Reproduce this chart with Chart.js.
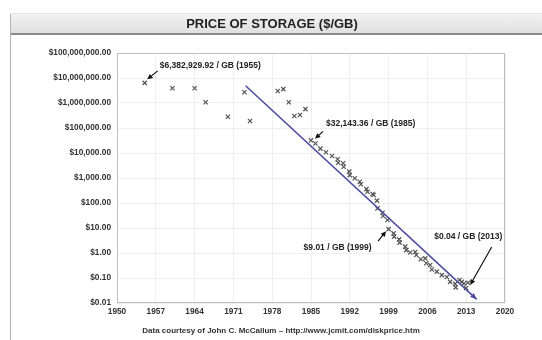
<!DOCTYPE html>
<html>
<head>
<meta charset="utf-8">
<title>Price of storage</title>
<script src="https://cdn.jsdelivr.net/npm/chart.js@4.4.1/dist/chart.umd.min.js"></script>
<style>
  html, body { margin: 0; padding: 0; background: #fff; }
  #wrap { position: relative; width: 542px; height: 340px; overflow: hidden; font-family: 'Liberation Sans', Arial, sans-serif; }
  #chart { position: absolute; left: 0; top: 0; }
  .frame { position: absolute; left: 10px; top: 14px; width: 560px; height: 340px; border-left: 1px solid #b4b4b4; pointer-events: none; }
  .band { position: absolute; left: 10px; top: 13px; width: 560px; height: 19px; background: linear-gradient(#f2f2f2, #e0e0e0); border-top: 1px solid #e6e6e6; border-bottom: 2px solid #8a8a8a; }
  .title { position: absolute; left: 0; top: 14px; width: 544px; text-align: center; font-weight: bold; font-size: 13px; line-height: 19px; color: #222; }
  .foot { position: absolute; left: 0; top: 325px; width: 562px; text-align: center; font-weight: bold; font-size: 8px; line-height: 12px; color: #333; }
</style>
</head>
<body>
<div id="wrap">
  <canvas id="chart" width="542" height="340"></canvas>
  <div class="band"></div>
  <div class="frame"></div>
  <div class="title">PRICE OF STORAGE ($/GB)</div>
  <div class="foot">Data courtesy of John C. McCallum – http://www.jcmit.com/diskprice.htm</div>
</div>
<script>
// disk price samples, $ per GB
const years = [
  1955, 1960, 1964, 1966, 1970, 1973, 1974, 1979, 1980, 1981, 1982, 1983, 1984,
  1985, 1985.8, 1986.7, 1987.7, 1988.8, 1989.8, 1989.9, 1990.8, 1990.9, 1991.9, 1992,
  1992.9, 1993.8, 1994, 1995, 1995.2, 1996.1, 1996.3, 1996.9, 1997, 1997.9, 1998,
  1998.8, 1999, 1999.9, 2000, 2000.9, 2001, 2002, 2002.2, 2002.9, 2003.8, 2004,
  2004.8, 2005.6, 2005.8, 2006.5, 2006.8, 2007.7, 2008.6, 2009.5, 2010.1, 2011,
  2011.1, 2011.8, 2012.2, 2012.6, 2013, 2013.3
];
const prices = [
  6382929.92, 3.9e6, 3.9e6, 1.07e6, 2.8e5, 2.7e6, 1.9e5, 3.0e6, 3.6e6, 1.07e6, 3.0e5, 3.3e5, 5.7e5,
  32143.36, 24000, 15000, 10700, 7600, 5600, 4100, 3900, 2800, 1800, 1300,
  980, 710, 560, 360, 280, 230, 210, 124, 61, 41, 30,
  21, 9.01, 6.1, 4.5, 3.5, 2.6, 1.8, 1.3, 1.05, 1.1, 0.83,
  0.56, 0.61, 0.39, 0.33, 0.22, 0.18, 0.13, 0.11, 0.07, 0.058,
  0.042, 0.083, 0.07, 0.06, 0.04, 0.065
];

// fitted trend, start and end
const trendYears = [1973.2, 2014.9];
const trendPrices = [4.9e6, 0.014];

// called-out samples
const noteYears = [1955, 1985, 1999, 2013];
const notePrices = [6382929.92, 32143.36, 9.01, 0.04];
const noteLabels = ['$6,382,929.92 / GB (1955)', '$32,143.36 / GB (1985)', '$9.01 / GB (1999)', '$0.04 / GB (2013)'];

const yearTicks = [1950, 1957, 1964, 1971, 1978, 1985, 1992, 1999, 2006, 2013, 2020];
const priceTicks = [0.01, 0.1, 1, 10, 100, 1000, 10000, 100000, 1000000, 10000000, 100000000];

const LABEL_FONT = "bold 8.5px 'Liberation Sans', Arial, sans-serif";

// text offset / arrow tail / arrow head, relative to the point
const noteLayout = [
  { tx: 15, ty: -17, align: 'left',   ax: 13,  ay: -12, bx: 2.5, by: -3.5 },
  { tx: 15, ty: -17, align: 'left',   ax: 12,  ay: -9,  bx: 4,   by: -1.5 },
  { tx: -17, ty: 18.5, align: 'right', ax: -10.5, ay: 12, bx: -2.5, by: 2 },
  { tx: 2,  ty: -51, align: 'center', ax: 25.5, ay: -41, bx: 4,  by: -3 }
];

function arrow(ctx, x1, y1, x2, y2, size) {
  const a = Math.atan2(y2 - y1, x2 - x1);
  ctx.beginPath();
  ctx.moveTo(x1, y1);
  ctx.lineTo(x2 - Math.cos(a) * size * 0.6, y2 - Math.sin(a) * size * 0.6);
  ctx.stroke();
  ctx.beginPath();
  ctx.moveTo(x2, y2);
  ctx.lineTo(x2 - size * Math.cos(a - 0.45), y2 - size * Math.sin(a - 0.45));
  ctx.lineTo(x2 - size * Math.cos(a + 0.45), y2 - size * Math.sin(a + 0.45));
  ctx.closePath();
  ctx.fill();
}

const decorations = {
  id: 'decorations',
  afterDraw(chart) {
    const { ctx, chartArea: a, scales } = chart;
    const xs = scales.x, ys = scales.y;
    ctx.save();

    // plot frame
    ctx.strokeStyle = '#bdbdbd';
    ctx.lineWidth = 1;
    ctx.strokeRect(a.left + 0.5, a.top + 0.5, a.right - a.left - 1, a.bottom - a.top - 1);

    // head on the trend line
    const tx0 = xs.getPixelForValue(trendYears[0]), ty0 = ys.getPixelForValue(trendPrices[0]);
    const tx1 = xs.getPixelForValue(trendYears[1]), ty1 = ys.getPixelForValue(trendPrices[1]);
    ctx.fillStyle = '#4e4ea0';
    const ang = Math.atan2(ty1 - ty0, tx1 - tx0);
    ctx.beginPath();
    ctx.moveTo(tx1, ty1);
    ctx.lineTo(tx1 - 7 * Math.cos(ang - 0.4), ty1 - 7 * Math.sin(ang - 0.4));
    ctx.lineTo(tx1 - 7 * Math.cos(ang + 0.4), ty1 - 7 * Math.sin(ang + 0.4));
    ctx.closePath();
    ctx.fill();

    // callouts
    ctx.font = LABEL_FONT;
    ctx.textBaseline = 'middle';
    noteYears.forEach((yr, i) => {
      const px = xs.getPixelForValue(yr);
      const py = ys.getPixelForValue(notePrices[i]);
      const l = noteLayout[i];
      ctx.fillStyle = '#222';
      ctx.textAlign = l.align;
      ctx.fillText(noteLabels[i], px + l.tx, py + l.ty);
      ctx.strokeStyle = '#111';
      ctx.fillStyle = '#111';
      ctx.lineWidth = 1.2;
      arrow(ctx, px + l.ax, py + l.ay, px + l.bx, py + l.by, 6);
    });
    ctx.restore();
  }
};

const tickFont = { family: "'Liberation Sans', Arial, sans-serif", size: 8.3, weight: 'bold' };

new Chart(document.getElementById('chart'), {
  type: 'scatter',
  data: {
    datasets: [
      {
        label: 'Price per GB',
        data: years.map((y, i) => ({ x: y, y: prices[i] })),
        pointStyle: 'crossRot',
        pointRadius: 3,
        borderColor: '#555',
        backgroundColor: '#555',
        borderWidth: 1.2,
        order: 2
      },
      {
        label: 'Trend',
        data: trendYears.map((y, i) => ({ x: y, y: trendPrices[i] })),
        showLine: true,
        pointRadius: 0,
        borderColor: '#4e4ea0',
        borderWidth: 1.6,
        order: 1
      }
    ]
  },
  options: {
    responsive: false,
    animation: false,
    layout: { padding: { top: 53, right: 37, left: 0, bottom: 0 } },
    plugins: { legend: { display: false }, tooltip: { enabled: false }, title: { display: false } },
    scales: {
      x: {
        type: 'linear',
        min: 1950,
        max: 2020,
        afterBuildTicks: axis => { axis.ticks = yearTicks.map(v => ({ value: v })); },
        afterFit: axis => { axis.height = 37; },
        grid: { color: '#efefef', drawTicks: false },
        border: { display: false },
        ticks: { color: '#333', font: tickFont, padding: 4, maxRotation: 0, autoSkip: false,
          callback: v => String(v) }
      },
      y: {
        type: 'logarithmic',
        min: 0.01,
        max: 100000000,
        afterBuildTicks: axis => { axis.ticks = priceTicks.map(v => ({ value: v })); },
        afterFit: axis => { axis.width = 117; },
        grid: { color: '#efefef', drawTicks: false },
        border: { display: false },
        ticks: { color: '#333', font: tickFont, padding: 6, autoSkip: false,
          callback: v => '$' + Number(v).toLocaleString('en-US', { minimumFractionDigits: 2, maximumFractionDigits: 2 }) }
      }
    }
  },
  plugins: [decorations]
});
</script>
</body>
</html>
